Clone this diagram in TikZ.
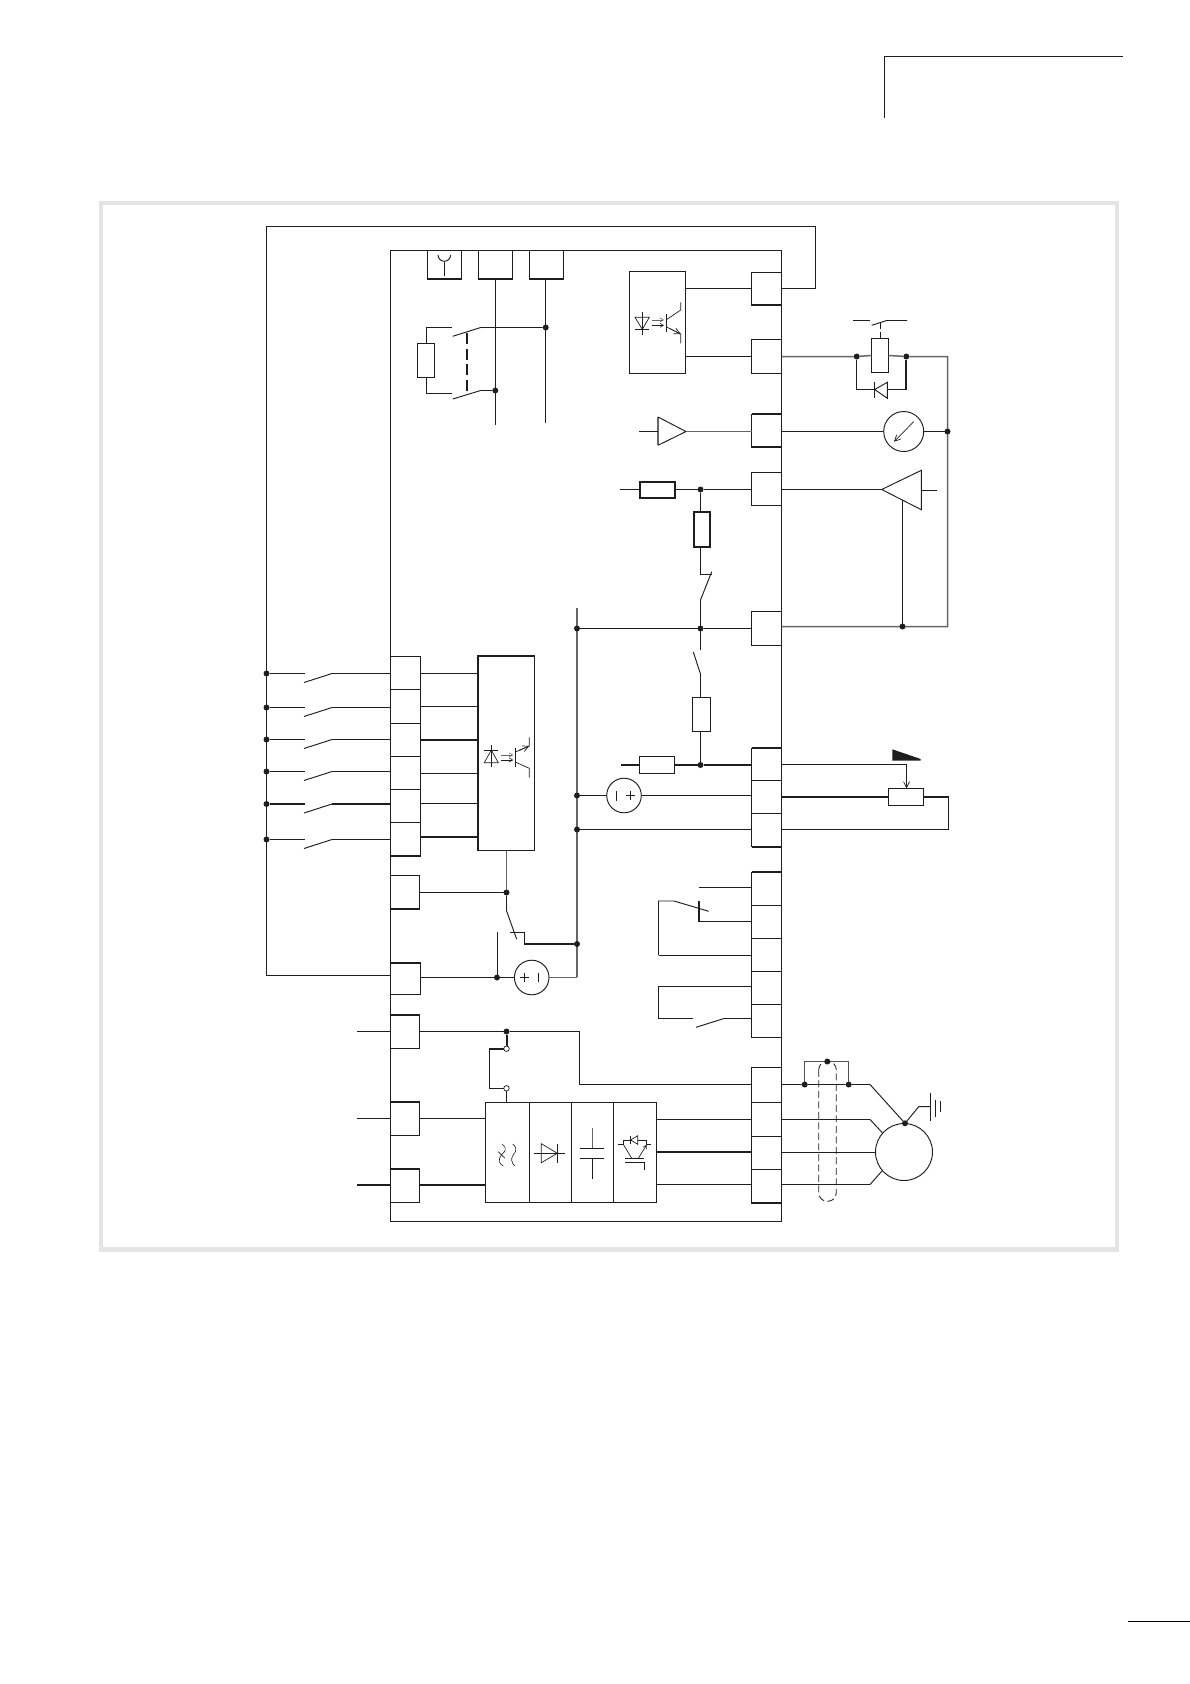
\documentclass[tikz,border=0pt]{standalone}
\usetikzlibrary{arrows.meta}
\definecolor{ink}{HTML}{1E1E1E}
\definecolor{midg}{HTML}{666666}
\definecolor{frameg}{HTML}{E4E4E4}
\tikzset{
  wire/.style={line width=0.95pt,draw=ink,line join=miter},
  thk/.style={line width=2pt,draw=ink},
  gry/.style={line width=1.5pt,draw=midg},
  sym/.style={line width=0.7pt,draw=ink},
  boxn/.style={draw=ink,line width=0.95pt,inner sep=0pt,outer sep=0pt,rectangle},
  dotn/.style={circle,fill=ink,draw=none,inner sep=0pt,outer sep=0pt,minimum size=6pt},
  opn/.style={circle,fill=white,draw=ink,line width=0.7pt,inner sep=0pt,outer sep=0pt,minimum size=5.5pt},
  ringn/.style={circle,draw=ink,line width=0.95pt,inner sep=0pt,outer sep=0pt},
  tip/.style={-{Straight Barb[length=3.5pt,width=4pt,line width=.6pt]}},
  bigtip/.style={-{Straight Barb[length=6pt,width=6pt,line width=.7pt]}},
}
\newcommand{\tbox}[5]{%
  \pgfmathsetmacro\tw{#4-#2}\pgfmathsetmacro\th{#5-#3}%
  \pgfmathsetmacro\tcx{(#2+#4)/2}\pgfmathsetmacro\tcy{(#3+#5)/2}%
  \node[boxn,minimum width=\tw pt,minimum height=\th pt] (#1) at (\tcx,\tcy) {};}
\newcommand{\jdot}[3]{\node[dotn] (#1) at (#2,#3) {};}
\begin{document}
\begin{tikzpicture}[x=1pt,y=-1pt]
\useasboundingbox (0,0) rectangle (1190,1684);
% page furniture
\coordinate (hA) at (884.5,118);\coordinate (hB) at (884.5,56.5);\coordinate (hC) at (1123,56.5);
\draw[wire] (hA) -- (hB) -- (hC);
\coordinate (pA) at (1128,1621.5);\coordinate (pB) at (1190,1621.5);
\draw[line width=1.5pt,draw=black] (pA) -- (pB);
\draw[frameg,line width=4.5pt] (101,203) rectangle (1117,1249.5);
% main enclosure
\tbox{main}{390.5}{250.5}{781.5}{1221.5}
% top sockets
\tbox{sockA}{427.5}{250.5}{461.5}{279}
\tbox{sockB}{478.5}{250.5}{512.5}{279}
\tbox{sockC}{529.5}{250.5}{563.5}{279}
\foreach \s in {sockA,sockB,sockC}{\draw[thk] (\s.south west) -- (\s.south east);}
\draw[wire] (438,255) arc[start angle=180,end angle=0,radius=6.3];
\draw[wire] (444.3,261.5) -- (444.3,275.7);
% relay top left
\coordinate (bEnd) at (495.5,425);\coordinate (cEnd) at (545.5,423);
\draw[wire] (sockB.south -| bEnd) -- (bEnd);
\draw[wire] (sockC.south -| cEnd) -- (cEnd);
\jdot{rA}{545.7}{327.5}
\jdot{rB}{495.3}{390.5}
\tbox{coil}{417.5}{343.5}{434.5}{377.5}
\draw[wire] (rA) -- (480.7,327.5) -- (452.7,336.3);
\draw[wire] (rB) -- (480.7,390.5) -- (452.7,399);
\draw[wire] (451.7,327.5) -| (coil.north);
\draw[wire] (451.7,393.5) -| (coil.south);
\draw[line width=2pt,draw=ink,dash pattern=on 11pt off 4.5pt] (467,333) -- (467,395);
% opto output block
\tbox{opto}{629.5}{271.5}{685.5}{373.5}
\draw[sym] (635,317.3) -- (649.3,317.3) -- (642.3,329.3) -- cycle;
\draw[sym] (635,329.3) -- (649.3,329.3);
\draw[sym] (642.3,312) -- (642.3,334.7);
\draw[sym,tip,draw=midg] (651.7,320) -- (664,320);
\draw[sym,tip] (651.7,325.3) -- (664,325.3);
\draw[sym] (666,314) -- (666,331.7);
\draw[sym] (666,320) -- (680.7,310) -- (680.7,302.3);
\draw[sym] (666,326.7) -- (680.7,334) -- (680.7,343.3);
\draw[sym,bigtip] (670,328.7) -- (680.7,334);
% right terminals
\tbox{rT}{751.5}{272}{781.5}{305}
\tbox{rU}{751.5}{339.5}{781.5}{373.5}
\tbox{rV}{751.5}{414}{781.5}{447}
\tbox{rW}{751.5}{472.5}{781.5}{505.5}
\tbox{rX}{751.5}{611.5}{781.5}{645.5}
\tbox{rA1}{751.5}{748}{781.5}{780.5}
\tbox{rA2}{751.5}{780.5}{781.5}{813.5}
\tbox{rA3}{751.5}{813.5}{781.5}{846.5}
\tbox{rB1}{751.5}{872}{781.5}{905.5}
\tbox{rB2}{751.5}{905.5}{781.5}{938.5}
\tbox{rB3}{751.5}{938.5}{781.5}{971.5}
\tbox{rB4}{751.5}{971.5}{781.5}{1004.5}
\tbox{rB5}{751.5}{1004.5}{781.5}{1037.5}
\tbox{rM1}{751.5}{1067.5}{781.5}{1102.5}
\tbox{rM2}{751.5}{1102.5}{781.5}{1136.5}
\tbox{rM3}{751.5}{1136.5}{781.5}{1169.5}
\tbox{rM4}{751.5}{1169.5}{781.5}{1203}
\foreach \s in {rT,rV,rA3,rM4}{\draw[thk] (\s.south west) -- (\s.south east);}
\foreach \s in {rV,rA1,rB1}{\draw[thk] (\s.north west) -- (\s.north east);}
% opto wires and outer loop
\coordinate (oTR) at (815.5,226.5);\coordinate (oTL) at (266.5,226.5);\coordinate (oBL) at (266.5,975.5);
\draw[wire] (opto.east |- rT.west) -- (rT.west);
\draw[wire] (opto.east |- rU.west) -- (rU.west);
\draw[wire] (rT.east) -| (oTR) -- (oTL) -- (oBL) -- (main.west |- oBL);
% coil with diode on right
\coordinate (rtC) at (947.5,356.5);\coordinate (rtD) at (947.5,626.5);
\jdot{kA}{856.7}{356.5}
\jdot{kB}{906.3}{356.5}
\tbox{kcoil}{871.5}{338.5}{888.5}{372.5}
\draw[gry] (rU.east) -- (kA) -- (kcoil.west);
\draw[gry] (kcoil.east) -- (kB) -- (rtC) -- (rtD) -- (rX.east |- rtD);
\draw[wire] (853,320.5) -- (870,320.5);
\draw[wire] (871.7,325.3) -- (886.7,320.5) -- (907,320.5);
\draw[wire] (880.3,323) -- (880.3,329);
\draw[wire] (880.3,331.5) -- (880.3,338.5);
\coordinate (dL) at (874.7,389.5);\coordinate (dR) at (887.3,389.5);
\draw[wire] (kA) |- (dL);
\draw[wire] (874.7,381.7) -- (874.7,398);
\draw[wire] (dL) -- (887.3,382.3) -- (887.3,398.3) -- cycle;
\draw[wire] (dR) -- (906.3,389.5);
\draw[thk] (906.3,390) -- (kB);
% meter
\node[ringn,minimum size=40pt] (meter) at (903.7,431.5) {};
\jdot{mD}{947.5}{431.5}
\draw[wire] (rV.east |- meter.west) -- (meter.west);
\draw[wire] (meter.east) -- (mD);
\draw[sym,bigtip] (913.7,421.7) -- (894,441.7);
% right amplifier
\coordinate (aTip) at (881.7,489.5);\coordinate (aBase) at (921.3,490.5);
\draw[wire] (aTip) -- (921.3,470.3) -- (921.3,509.7) -- cycle;
\draw[wire] (rW.east |- aTip) -- (aTip);
\draw[wire] (aBase) -- (936.7,490.5);
\jdot{aD}{902.5}{626.5}
\draw[wire] (902.5,500) -- (aD);
% left amplifier
\coordinate (bTip) at (686,431.5);\coordinate (bIn) at (639.3,431.5);\coordinate (bBase) at (658,431.5);
\draw[gry] (658,417) -- (658,445.3);
\draw[wire] (658,417) -- (bTip) -- (658,445.3);
\draw[wire] (bIn) -- (bBase);
\draw[gry] (bTip) -- (rV.west |- bTip);
% series resistor 1
\tbox{res1}{639.5}{481.5}{674.5}{498}
\draw[thk] (res1.north west) rectangle (res1.south east);
\coordinate (r1in) at (620.3,489.5);
\jdot{j1}{700.5}{489.5}
\draw[wire] (r1in) -- (res1.west |- r1in);
\draw[wire] (res1.east |- j1) -- (j1) -- (rW.west |- j1);
\tbox{res2}{694}{512}{710}{547}
\draw[line width=1.6pt,draw=ink] (res2.north west) rectangle (res2.south east);
\draw[wire] (j1) -- (j1 |- res2.north);
\coordinate (fold) at (700.5,574.5);
\draw[wire] (j1 |- res2.south) -- (fold) -- (711.7,574.5);
\draw[wire] (711.7,571.7) -- (700.5,600) -- (700.5,650);
\jdot{j2}{700.5}{628.5}
\coordinate (busTop) at (577,607.7);\coordinate (busBot) at (577,977);
\draw[gry] (busTop) -- (busBot);
\jdot{bA}{577}{628.5}
\jdot{bB}{577}{795.5}
\jdot{bC}{577}{829.5}
\jdot{bD}{577}{944}
\draw[wire] (bA) -- (j2) -- (rX.west |- j2);
% lower branch
\tbox{res3}{692.5}{697.5}{710.5}{731.5}
\draw[line width=1.5pt,draw=ink] (res3.north west) -- (res3.south west);
\jdot{j3}{700.5}{765}
\draw[wire] (693.3,652) -- (700.5,674) -- (700.5,697.5);
\draw[wire] (700.5,731.5) -- (j3);
\tbox{res4}{639.5}{756.5}{674.5}{773.5}
\draw[line width=1.6pt,draw=ink] (res4.north west) rectangle (res4.south east);
\coordinate (r4in) at (620.7,765);
\draw[thk] (r4in) -- (res4.west |- r4in);
\draw[thk] (res4.east |- r4in) -- (j3) -- (rA1.west |- j3);
% voltage source 1
\node[ringn,minimum size=34.6pt] (vsA) at (624,795.5) {};
\draw[wire] (bB) -- (vsA.west);
\draw[wire] (vsA.east) -- (rA2.west |- vsA.east);
\draw[sym] (616.7,791) -- (616.7,800.5);
\draw[sym] (626,795.7) -- (635,795.7) (630.5,791.2) -- (630.5,800.2);
\draw[wire] (bC) -- (rA3.west |- bC);
% potentiometer
\tbox{pot}{888.5}{788.5}{923.5}{805.5}
\draw[line width=1.6pt,draw=ink] (pot.north west) rectangle (pot.south east);
\coordinate (wk) at (906.5,764.5);
\draw[wire] (rA1.east |- wk) -- (wk);
\draw[wire,bigtip] (wk) -- (pot.north -| wk);
\fill[ink] (892.3,749.3) -- (892.3,760.7) -- (920.7,760.7) -- (920.7,759) -- cycle;
\coordinate (pR) at (948.5,797);
\draw[thk] (rA2.east |- pR) -- (pot.west |- pR);
\draw[thk] (pot.east |- pR) -- (pR);
\draw[wire] (948.5,796) -- (948.5,829.5) -- (rA3.east |- bC);
% relay contacts right lower
\coordinate (cA) at (698.7,887.5);\coordinate (cB) at (699,921.5);\coordinate (cL) at (658.5,901);
\draw[wire] (cA) -- (rB1.west |- cA);
\draw[thk] (699,900.7) -- (cB);
\draw[wire] (cB) -- (rB2.west |- cB);
\draw[wire] (708.7,911.3) -- (674,901) -- (cL) -- (658.5,955);
\draw[wire] (658.5,955) -- (rB3.west);
\coordinate (eA) at (658.5,986.5);\coordinate (eB) at (658.5,1018.5);
\draw[wire] (rB4.west |- eA) -- (eA) -- (eB) -- (692.7,1018.5);
\draw[wire] (696,1027.3) -- (724,1018.5) -- (rB5.west |- eB);
% left terminals
\tbox{lA}{390.5}{656}{420.5}{689.5}
\tbox{lB}{390.5}{689.5}{420.5}{723.5}
\tbox{lC}{390.5}{723.5}{420.5}{756.5}
\tbox{lD}{390.5}{756.5}{420.5}{789.5}
\tbox{lE}{390.5}{789.5}{420.5}{822.5}
\tbox{lF}{390.5}{822.5}{420.5}{856}
\tbox{lG}{390.5}{875.5}{419.5}{909}
\tbox{lH}{390.5}{963}{420.5}{994.5}
\tbox{lI}{390.5}{1015}{419.5}{1048.5}
\tbox{lJ}{390.5}{1102}{419.5}{1135.5}
\tbox{lK}{390.5}{1169}{419.5}{1202.5}
\foreach \s in {lF,lG}{\draw[thk] (\s.south west) -- (\s.south east);}
\foreach \s in {lH,lI,lJ,lK}{\draw[thk] (\s.north west) -- (\s.north east);}
% input block
\tbox{inb}{478}{656}{534.5}{850.5}
\draw[thk] (inb.south west) -- (inb.north west) -- (inb.north east);
\foreach \n/\y/\st in {A/673.5/wire,B/707.5/wire,C/739.5/wire,D/771.5/wire,E/804/thk,F/839.5/wire}{
  \jdot{sw\n}{266.5}{\y}
  \draw[\st] (sw\n) -- (305,\y);
  \draw[wire] (304,\y+9) -- (332,\y);
  \draw[\st] (332,\y) -- (main.west |- sw\n);
}
\foreach \n/\y/\st in {A/673.5/wire,B/706.5/wire,C/740/thk,D/773.5/wire,E/803.5/wire,F/837/thk}{
  \draw[\st] (l\n.east |- 0,\y) -- (inb.west |- 0,\y);
}
% input opto symbol
\draw[sym] (491.3,745.3) -- (491.3,767.3);
\draw[sym] (484.3,750) -- (498.3,750);
\draw[sym] (491.3,750) -- (498.3,762.7) -- (484.3,762.7) -- cycle;
\draw[sym,tip,draw=midg] (501,755) -- (513.3,755);
\draw[sym,tip] (501,760) -- (513.3,760);
\draw[sym] (515.3,748.3) -- (515.3,766.7);
\draw[sym] (515.3,752) -- (529.3,746) -- (529.3,737.3);
\draw[sym,bigtip] (519,750.4) -- (529.3,746);
\draw[sym] (515.3,762) -- (529.3,768.3) -- (529.3,777.7);
% common and switch
\jdot{cmA}{506.5}{892.5}
\draw[gry,line width=1.2pt] (cmA |- inb.south) -- (cmA);
\draw[wire] (lG.east |- cmA) -- (cmA);
\draw[wire] (cmA) -- (506.5,910.7) -- (516.7,939.3);
\coordinate (swK) at (524.5,944);
\draw[wire] (510,932.5) -- (524.5,932.5) -- (swK);
\draw[thk] (524,944) -- (bD);
% 24V source 2
\node[ringn,minimum size=34.6pt] (vsB) at (531.7,977.5) {};
\jdot{cmB}{497}{977.5}
\coordinate (stub) at (497.5,932.3);
\draw[wire] (stub) -- (497.5,977.5);
\draw[wire] (lH.east |- cmB) -- (cmB) -- (vsB.west);
\draw[gry] (vsB.east) -- (vsB.east -| busBot);
\draw[sym] (520.2,977) -- (529.2,977) (524.7,972.5) -- (524.7,981.5);
\draw[sym] (538.3,972.5) -- (538.3,981.5);
% mains
\coordinate (mIn) at (357,1031.5);
\jdot{mJ}{506.5}{1031.5}
\node[opn] (oA) at (506.5,1048.7) {};
\node[opn] (oB) at (506.5,1088.3) {};
\coordinate (bk) at (579.5,1031.5);\coordinate (bk2) at (579.5,1084.5);
\draw[wire] (mIn) -- (lI.west |- mIn);
\draw[wire] (lI.east |- mIn) -- (mJ) -- (bk) -- (bk2) -- (rM1.west |- bk2);
\draw[thk] (mJ) -- (oA);
\draw[thk] (oA) -- (489.5,1048.7);
\draw[wire] (489.5,1047.7) -- (489.5,1088.3) -- (oB);
\tbox{flt}{485.5}{1102.5}{529.5}{1202.5}
\tbox{rect}{529.5}{1102.5}{571.5}{1202.5}
\tbox{caps}{571.5}{1102.5}{613.5}{1202.5}
\tbox{inv}{613.5}{1102.5}{656.5}{1202.5}
\draw[line width=1.6pt,draw=ink] (flt.north west) -- (flt.south west);
\draw[wire] (oB) -- (506.5,1102.5);
\coordinate (inA) at (357,1118.5);\coordinate (inB) at (357,1185);
\draw[wire] (inA) -- (lJ.west |- inA);
\draw[wire] (lJ.east |- inA) -- (flt.west |- inA);
\draw[thk] (inB) -- (lK.west |- inB);
\draw[thk] (lK.east |- inB) -- (flt.west |- inB);
% filter symbol
\draw[sym,line width=.6pt] (502,1144) .. controls (505,1146.5) and (506.5,1149) .. (505,1151) .. controls (503,1153.5) and (498.5,1157) .. (499.3,1161.7) .. controls (499.8,1163.5) and (501.5,1165) .. (503.3,1166);
\draw[sym,line width=.6pt] (498.3,1151.7) -- (505,1158.3);
\draw[sym,line width=.6pt] (512.7,1144) .. controls (515.5,1146.5) and (517,1149) .. (515.5,1151.5) .. controls (514,1154) and (511,1157.5) .. (511.7,1160.5) .. controls (512.2,1163) and (513.5,1165) .. (515,1166);
% rectifier symbol
\draw[sym] (541.3,1143.7) -- (541.3,1162.7) -- (557.3,1153.3) -- cycle;
\draw[sym] (557.3,1144) -- (557.3,1163);
\draw[sym] (534,1153.3) -- (564.7,1153.3);
% capacitor symbol
\draw[sym,draw=midg] (592,1128.3) -- (592,1148.3);
\draw[sym] (580,1148.3) -- (604,1148.3);
\draw[sym] (580,1158.3) -- (604,1158.3);
\draw[sym] (592,1158.3) -- (592,1179);
% IGBT symbol
\draw[sym] (618.3,1144.3) -- (623.3,1144.3) -- (623.3,1140) -- (646.7,1140) -- (646.7,1144.3) -- (651,1144.3);
\draw[sym,fill=white] (630.7,1140) -- (637.7,1135.7) -- (637.7,1144.3) -- cycle;
\draw[sym] (630.7,1135.7) -- (630.7,1144.3);
\draw[sym] (623.3,1144.3) -- (631.7,1158.3);
\draw[sym,tip] (638.3,1158.3) -- (646.7,1144.8);
\draw[sym] (625,1158.3) -- (644.3,1158.3);
\draw[sym] (625,1162.7) -- (644.3,1162.7) -- (644.3,1170);
% outputs
\draw[wire] (inv.east |- 0,1119.5) -- (rM2.west |- 0,1119.5);
\draw[thk] (inv.east |- 0,1152) -- (rM3.west |- 0,1152);
\draw[wire] (inv.east |- 0,1184.5) -- (rM4.west |- 0,1184.5);
% motor
\node[ringn,minimum size=57pt] (motor) at (904,1152) {};
\jdot{mU}{905}{1123.3}
\jdot{brA}{804.7}{1084.5}
\jdot{brB}{848.7}{1084.5}
\jdot{brC}{827.3}{1061.5}
\coordinate (kU) at (870,1084.5);\coordinate (kV) at (870,1119.5);\coordinate (kW) at (870,1184.5);
\draw[wire] (rM1.east |- kU) -- (brA) -- (brB) -- (kU) -- (mU);
\draw[wire] (rM2.east |- kV) -- (kV) -- (882.3,1132.7);
\draw[wire] (rM3.east |- motor.west) -- (motor.west);
\draw[wire] (rM4.east |- kW) -- (kW) -- (882.3,1170.7);
\draw[line width=1.4pt,draw=midg!80!black] (brA) -- (804.7,1061.5) -- (brC) -- (848.7,1061.5) -- (brB);
\draw[line width=.85pt,draw=ink,dash pattern=on 7pt off 3.5pt,rounded corners=8.5pt] (818.7,1061.3) rectangle (836.3,1201.3);
% earth
\draw[wire] (mU) -- (918.7,1106.7) -- (930.5,1106.7);
\draw[wire] (930.5,1092.7) -- (930.5,1120.7);
\draw[sym] (935.7,1100) -- (935.7,1116.7);
\draw[sym] (940.3,1101.3) -- (940.3,1112);
\end{tikzpicture}
\end{document}
